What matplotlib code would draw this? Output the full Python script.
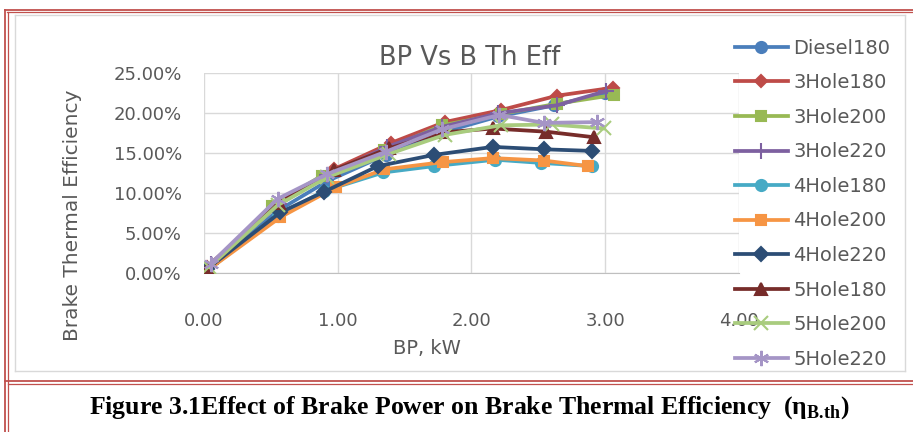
import numpy as np
import matplotlib
matplotlib.use("Agg")
import matplotlib.pyplot as plt
from matplotlib.lines import Line2D
from matplotlib.ticker import PercentFormatter

plt.rcParams['font.family'] = ['DejaVu Sans']
plt.rcParams['mathtext.fontset'] = 'custom'
plt.rcParams['mathtext.bf'] = 'Liberation Serif:bold'
plt.rcParams['mathtext.rm'] = 'Liberation Serif:bold'

# 데이터 (그림에서 읽은 값, BP kW / 효율 %)
labels = ["Diesel180", "3Hole180", "3Hole200", "3Hole220", "4Hole180",
          "4Hole200", "4Hole220", "5Hole180", "5Hole200", "5Hole220"]

bp_diesel180 = [0.0, 0.55, 0.92, 1.36, 1.78, 2.20, 2.62, 3.00]
eff_diesel180 = [0.0, 7.8, 11.5, 14.8, 17.6, 19.6, 21.0, 22.5]
bp_3h180 = [0.02, 0.55, 0.97, 1.40, 1.80, 2.22, 2.64, 3.06]
eff_3h180 = [0.8, 8.6, 13.0, 16.3, 18.9, 20.4, 22.2, 23.2]
bp_3h200 = [0.03, 0.51, 0.88, 1.35, 1.78, 2.22, 2.64, 3.07]
eff_3h200 = [0.5, 8.4, 12.2, 15.4, 18.5, 19.9, 21.2, 22.3]
bp_3h220 = [0.05, 0.56, 0.92, 1.37, 1.78, 2.20, 2.64, 3.01]
eff_3h220 = [1.2, 8.6, 12.3, 15.8, 18.3, 20.0, 21.0, 22.8]
bp_4h180 = [0.0, 0.55, 0.90, 1.34, 1.72, 2.18, 2.52, 2.90]
eff_4h180 = [0.0, 7.2, 10.3, 12.6, 13.4, 14.2, 13.8, 13.4]
bp_4h200 = [0.02, 0.57, 0.99, 1.35, 1.79, 2.16, 2.54, 2.87]
eff_4h200 = [0.3, 7.0, 10.8, 13.0, 13.9, 14.4, 14.1, 13.4]
bp_4h220 = [0.02, 0.57, 0.90, 1.30, 1.72, 2.16, 2.54, 2.90]
eff_4h220 = [0.5, 7.6, 10.2, 13.4, 14.8, 15.8, 15.5, 15.3]
bp_5h180 = [0.03, 0.56, 0.97, 1.38, 1.78, 2.16, 2.56, 2.92]
eff_5h180 = [0.6, 8.8, 12.9, 15.6, 17.6, 18.1, 17.7, 17.0]
bp_5h200 = [0.04, 0.55, 0.92, 1.38, 1.80, 2.22, 2.60, 2.99]
eff_5h200 = [0.8, 8.5, 12.0, 14.9, 17.3, 18.5, 18.6, 18.1]
bp_5h220 = [0.05, 0.55, 0.92, 1.36, 1.78, 2.21, 2.54, 2.94]
eff_5h220 = [1.2, 9.3, 12.4, 15.2, 18.0, 19.8, 18.8, 18.9]

bp_all = [bp_diesel180, bp_3h180, bp_3h200, bp_3h220, bp_4h180,
          bp_4h200, bp_4h220, bp_5h180, bp_5h200, bp_5h220]
eff_all = [eff_diesel180, eff_3h180, eff_3h200, eff_3h220, eff_4h180,
           eff_4h200, eff_4h220, eff_5h180, eff_5h200, eff_5h220]

colors = ["#4A7EBB", "#BE4B48", "#98B954", "#7D60A0", "#46AAC5",
          "#F69544", "#2C4D75", "#772C2A", "#A9CC7E", "#A595C6"]
markers = ["o", "D", "s", "+", "o", "s", "D", "^", "x", (6, 2, 0)]
msizes = [8, 6, 7, 11, 8, 7, 7, 8, 10, 11]

grey = "#595959"

fig = plt.figure(figsize=(9.13, 4.32), dpi=100)
ax = fig.add_axes([204 / 913, 1 - 273.3 / 432, (738.8 - 204) / 913, 200 / 432])

for i in range(len(labels)):
    ax.plot(bp_all[i], np.array(eff_all[i]) / 100, color=colors[i], lw=2.7,
            marker=markers[i], ms=msizes[i], mew=1.5, label=labels[i], zorder=3)

ax.set_xlim(0, 4)
ax.set_ylim(0, 0.25)
ax.set_xticks([0, 1, 2, 3, 4])
ax.set_xticklabels(["0.00", "1.00", "2.00", "3.00", "4.00"])
ax.set_yticks(np.arange(0, 0.26, 0.05))
ax.yaxis.set_major_formatter(PercentFormatter(1.0, decimals=2))
ax.grid(True, color="#D9D9D9", lw=1)
ax.set_axisbelow(True)
for s in ["top", "right", "left"]:
    ax.spines[s].set_visible(False)
ax.spines["bottom"].set_color("#BFBFBF")
ax.tick_params(axis="x", length=0, pad=28, labelsize=13, labelcolor=grey)
ax.tick_params(axis="y", length=0, pad=16, labelsize=13, labelcolor=grey)
ax.set_xlabel("BP, kW", fontsize=14, color=grey)
ax.set_ylabel("Brake Thermal Efficiency", fontsize=14.5, color=grey)
ax.xaxis.set_label_coords(0.417, -0.378)
ax.yaxis.set_label_coords(-0.245, 0.29)
ax.xaxis.label.set_va("center")
ax.yaxis.label.set_va("center")

fig.text(470 / 913, 1 - 58 / 432, "BP Vs B Th Eff", fontsize=18.5, color=grey,
         ha="center", va="center")

handles, lbls = ax.get_legend_handles_labels()
leg = fig.legend(handles, lbls, loc="upper left", bbox_to_anchor=(725 / 913, 1 - 29 / 432),
                 frameon=False, fontsize=14, labelspacing=0.8, handlelength=2.75,
                 handletextpad=0.25, labelcolor=grey, borderpad=0)

# 테두리
def hline(y, x0, x1, c, lw):
    fig.add_artist(Line2D([x0 / 913, x1 / 913], [1 - y / 432, 1 - y / 432], color=c, lw=lw))

def vline(x, y0, y1, c, lw):
    fig.add_artist(Line2D([x / 913, x / 913], [1 - y0 / 432, 1 - y1 / 432], color=c, lw=lw))

red = "#C0504D"
hline(9.5, 5, 913, red, 1.3)
hline(12, 7, 913, red, 0.9)
vline(5, 9.5, 432, red, 1.3)
vline(7.5, 12, 432, red, 0.9)
hline(381, 5, 913, red, 1.3)
hline(384, 7.5, 913, red, 0.9)
hline(14.5, 15, 905, "#D9D9D9", 1)
hline(370.5, 15, 905, "#D9D9D9", 1)
vline(15, 14.5, 370.5, "#D9D9D9", 1)
vline(905, 14.5, 370.5, "#D9D9D9", 1)

fig.text(470 / 913, 1 - 408 / 432,
         r"Figure 3.1Effect of Brake Power on Brake Thermal Efficiency  (η$_{\mathbf{B.\!th}}$)",
         fontsize=18.5, family="Liberation Serif", weight="bold", ha="center", va="center")

fig.savefig("out.png", dpi=100)
